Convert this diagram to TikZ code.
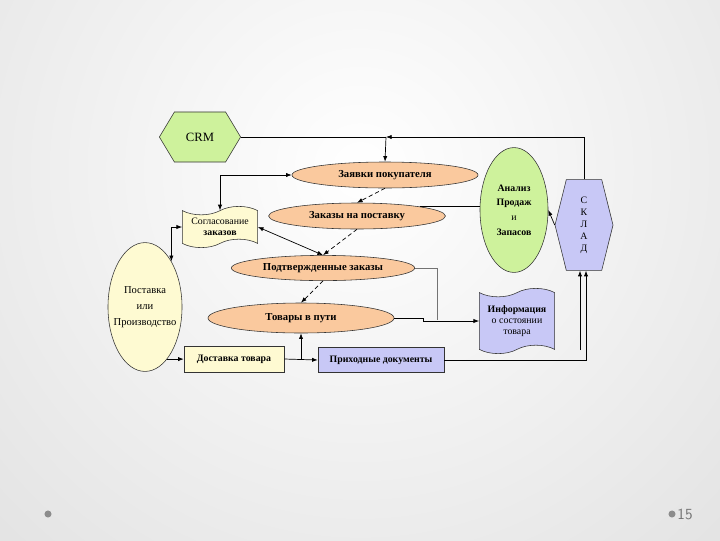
\documentclass[tikz,border=0pt]{standalone}
\usepackage{fontspec}
\setmainfont{Liberation Serif}
\usepackage{xcolor}
\usetikzlibrary{shapes.geometric, shapes.symbols, arrows.meta, positioning, calc}
\definecolor{crmgreen}{RGB}{206,242,156}
\definecolor{peach}{RGB}{250,201,158}
\definecolor{paleyellow}{RGB}{254,250,210}
\definecolor{lavender}{RGB}{200,200,246}

\begin{document}
\begin{tikzpicture}[x=0.025cm, y=-0.025cm,
    txt/.style={font=\fontsize{7}{8}\selectfont\bfseries, align=center},
    oval/.style={ellipse, draw=black!80, fill=peach, inner sep=0pt, txt, font=\fontsize{7.6}{9}\selectfont\bfseries},
    doc/.style={tape, draw=black!80, inner sep=1pt, tape bend height=6pt, txt},
    rbox/.style={rectangle, draw=black!80, txt},
    hexa/.style={signal, signal to=west and east, draw=black!80, inner sep=0pt},
    arr/.style={-{Latex[length=4pt,width=3pt]}, line width=0.5pt},
    dbl/.style={{Latex[length=4pt,width=3pt]}-{Latex[length=4pt,width=3pt]}, line width=0.5pt},
    dsh/.style={arr, densely dashed}]

    % Background
    \begin{scope}
        \clip (0,0) rectangle (720,540);
        \shade[inner color=white, outer color=black!20] (360,170) circle (24cm);
    \end{scope}
    \useasboundingbox (0,0) rectangle (720,540);

    % CRM
    \node[hexa, fill=crmgreen, minimum width=2.03cm, minimum height=1.25cm,
          signal pointer angle=118, font=\fontsize{9}{10}\selectfont] (crm) at (200,137) {CRM};

    % Orders
    \node[oval, minimum width=4.65cm, minimum height=0.65cm] (zayavki) at (385,175) {Заявки покупателя};
    \node[oval, minimum width=4.42cm, minimum height=0.65cm] (zakazy) at (357,216) {Заказы на поставку};
    \node[oval, minimum width=4.58cm, minimum height=0.63cm] (podtv) at (323,268) {Подтвержденные заказы};
    \node[oval, minimum width=4.65cm, minimum height=0.75cm] (tovary) at (301,318) {Товары в пути};

    % Documents
    \node[doc, fill=paleyellow, minimum width=1.88cm, minimum height=1.03cm] (soglas) at (220,227)
        {{\mdseries Согласование}\\заказов};
    \node[doc, fill=lavender, minimum width=1.88cm, minimum height=1.63cm] (info) at (517,321)
        {Информация\\{\mdseries о состоянии}\\{\mdseries товара}};

    % Analysis and stock
    \node[ellipse, draw=black!80, fill=crmgreen, minimum width=1.7cm, minimum height=3.12cm, inner sep=0pt,
          txt, font=\fontsize{7}{10.5}\selectfont\bfseries] (analiz) at (514,210)
        {Анализ\\Продаж\\{\mdseries и}\\Запасов};
    \node[hexa, fill=lavender, minimum width=1.45cm, minimum height=2.27cm, signal pointer angle=152,
          txt, font=\fontsize{7}{8.6}\selectfont] (sklad) at (584,225) {С\\К\\Л\\А\\Д};

    % Supply
    \node[ellipse, draw=black!80, fill=paleyellow, minimum width=1.85cm, minimum height=3.22cm,
          inner xsep=-8pt, inner ysep=0pt, align=center, font=\fontsize{7.5}{11.5}\selectfont] (postavka) at (145,307)
        {Поставка\\или\\Производство};
    \node[rbox, fill=paleyellow, minimum width=2.5cm, minimum height=0.65cm] (dostavka) at (234,359) {Доставка товара};
    \node[rbox, fill=lavender, minimum width=3.15cm, minimum height=0.63cm] (prihod) at (381,360) {Приходные документы};

    % Connectors
    \coordinate (j1) at (386,137);
    \draw[line width=0.5pt] (crm.east) -- (j1);
    \draw[arr] (sklad.north) |- (j1);
    \draw[arr] (j1) -- (zayavki.north);
    \draw[dbl] (zayavki.west) -| (soglas.north);
    \draw[dsh] (zayavki.south) -- (zakazy.north);
    \draw[line width=0.5pt] (zakazy.north east) -- (zakazy.north east -| analiz.west);
    \draw[dsh] (zakazy.south) -- (podtv.north);
    \draw[dbl] (soglas.east) -- (podtv.north);
    \coordinate (g1) at (437,320);
    \draw[black!55, line width=0.5pt] (podtv.east) -| (g1);
    \draw[dsh] (podtv.south) -- (tovary.north);
    \draw[arr] (tovary.east) -- ++(29,0) |- (info.west);
    \draw[dbl] (postavka.north east) |- (soglas.west);
    \draw[arr] (postavka.-67) -- (postavka.-67 -| dostavka.west);
    \draw[arr] (dostavka.east) -- (prihod.west);
    \draw[arr] (tovary.south |- dostavka.east) -- (tovary.south);
    \draw[arr] (prihod.east) -| ([xshift=0.05cm]sklad.south);
    \coordinate (c3) at (580,350);
    \draw[arr] (c3) -- (c3 |- sklad.south);
    \draw[arr] (sklad.west) -- (analiz.east);

    % Slide footer
    \fill[black!45] (48,514) circle (2.5pt);
    \fill[black!45] (672,514) circle (2.5pt);
    \node[text=black!55, font=\sffamily\fontsize{11}{12}\selectfont] (pnum) at (685,514) {15};
\end{tikzpicture}
\end{document}
